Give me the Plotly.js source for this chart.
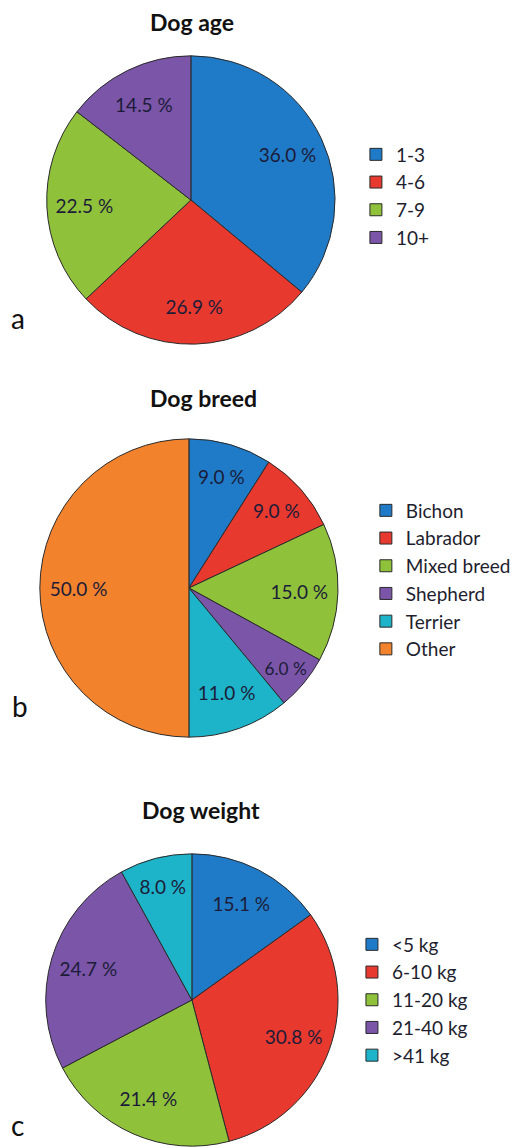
<!DOCTYPE html>
<html>
<head>
<meta charset="utf-8">
<script src="https://cdn.plot.ly/plotly-3.0.1.min.js"></script>
<style>html,body{margin:0;padding:0;background:#fff;}#chart{width:516px;height:1148px;}</style>
</head>
<body>
<div id="chart"></div>
<script>
const ageLabels = ['1-3', '4-6', '7-9', '10+'];
const ageValues = [36.0, 26.9, 22.5, 14.5];
const breedLabels = ['Bichon', 'Labrador', 'Mixed breed', 'Shepherd', 'Terrier', 'Other'];
const breedValues = [9.0, 9.0, 15.0, 6.0, 11.0, 50.0];
const weightLabels = ['<5 kg', '6-10 kg', '11-20 kg', '21-40 kg', '>41 kg'];
const weightValues = [15.1, 30.8, 21.4, 24.7, 8.0];
const panelTitles = ['Dog age', 'Dog breed', 'Dog weight'];
const panelLetters = ['a', 'b', 'c'];

const BLUE = '#1f7bc8', RED = '#e8392f', GREEN = '#8fc23a', PURPLE = '#7b55a8', TEAL = '#1db4ca', ORANGE = '#f3822c';
const W = 516, H = 1148;
const px = v => v / W, py = v => 1 - v / H;

function dom(cx, cy, r) {
  return {x: [px(cx - r), px(cx + r)], y: [py(cy + r), py(cy - r)]};
}

// Filled pie (slices + legend)
function pie(labels, values, colors, cx, cy, r, legendName) {
  return {
    type: 'pie', labels: labels, values: values, sort: false, direction: 'clockwise', rotation: 0,
    marker: {colors: colors, line: {color: '#2a2a2a', width: 1}},
    textinfo: 'none', hoverinfo: 'label+value',
    domain: dom(cx, cy, r), legend: legendName, showlegend: true
  };
}
// Transparent ring over the same pie: carries the value labels at ~3/4 of the radius
function labelRing(labels, values, cx, cy, r) {
  return {
    type: 'pie', labels: labels, values: values, sort: false, direction: 'clockwise', rotation: 0, hole: 0.48,
    marker: {colors: labels.map(() => 'rgba(0,0,0,0)'), line: {width: 0}},
    texttemplate: '%{value:.1f} %', textposition: 'inside', insidetextorientation: 'horizontal',
    textfont: {family: 'Lato, sans-serif', size: 19, color: '#1c1c38'},
    hoverinfo: 'skip', domain: dom(cx, cy, r), showlegend: false
  };
}

const data = [
  pie(ageLabels, ageValues, [BLUE, RED, GREEN, PURPLE], 192, 200, 145, 'legend'),
  pie(breedLabels, breedValues, [BLUE, RED, GREEN, PURPLE, TEAL, ORANGE], 190, 588, 150, 'legend2'),
  pie(weightLabels, weightValues, [BLUE, RED, GREEN, PURPLE, TEAL], 193, 1000, 147, 'legend3'),
  labelRing(ageLabels, ageValues, 192, 200, 145),
  labelRing(breedLabels, breedValues, 190, 588, 150),
  labelRing(weightLabels, weightValues, 193, 1000, 147)
];

const legFont = {family: 'Lato, sans-serif', size: 19, color: '#1e1e2e'};
function leg(x, yc) {
  return {x: px(x), y: py(yc), xanchor: 'left', yanchor: 'middle', font: legFont, bgcolor: 'rgba(0,0,0,0)', itemwidth: 30, traceorder: 'normal'};
}

const titlePos = [[193, 22], [205, 398], [202, 810]];
const letterPos = [[18, 318], [20, 706], [18, 1125]];
const annotations = [];
panelTitles.forEach((t, i) => annotations.push({
  text: '<b>' + t + '</b>', x: px(titlePos[i][0]), y: py(titlePos[i][1]), xref: 'paper', yref: 'paper',
  showarrow: false, xanchor: 'center', yanchor: 'middle', font: {family: 'Lato, sans-serif', size: 23, color: '#111'}
}));
panelLetters.forEach((t, i) => annotations.push({
  text: t, x: px(letterPos[i][0]), y: py(letterPos[i][1]), xref: 'paper', yref: 'paper',
  showarrow: false, xanchor: 'center', yanchor: 'middle', font: {family: 'Lato, sans-serif', size: 28, color: '#111'}
}));

const layout = {
  width: W, height: H, margin: {l: 0, r: 0, t: 0, b: 0},
  paper_bgcolor: '#fff', plot_bgcolor: '#fff',
  legend: leg(358, 196), legend2: leg(368, 580), legend3: leg(354, 1000),
  annotations: annotations
};

Plotly.newPlot('chart', data, layout, {displayModeBar: false, staticPlot: true});
</script>
</body>
</html>
